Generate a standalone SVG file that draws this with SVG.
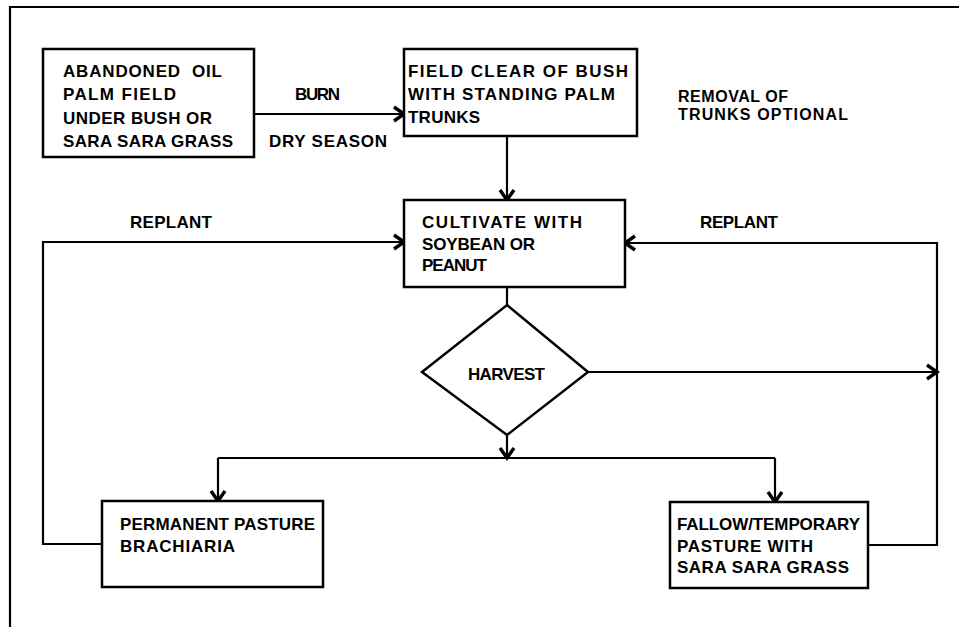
<svg xmlns="http://www.w3.org/2000/svg" width="959" height="627" viewBox="0 0 959 627">
<defs>
<style>
.box{fill:#fff;stroke:#000;stroke-width:2.5}
.ln{fill:none;stroke:#000;stroke-width:2.2}
text{font-family:"Liberation Sans",Arial,sans-serif;font-weight:bold;font-size:17px;fill:#000}
.sm{font-size:16px}
</style>
<marker id="ah" markerUnits="userSpaceOnUse" markerWidth="20" markerHeight="20" viewBox="-12 -10 14 20" refX="0" refY="0" orient="auto">
<path d="M-10,-7 L0,0 L-10,7" fill="none" stroke="#000" stroke-width="3.4" stroke-linejoin="miter"/>
</marker>
</defs>
<rect width="959" height="627" fill="#fff"/>
<path class="ln" d="M10,627 V7 H959" stroke-width="2.5"/>

<g id="connectors">
<path class="ln" d="M254,114 H404" marker-end="url(#ah)"/>
<path class="ln" d="M507,136 V200" marker-end="url(#ah)"/>
<path class="ln" d="M102,544 H43 V242 H404" marker-end="url(#ah)"/>
<path class="ln" d="M868,545 H937 V243 H625" marker-end="url(#ah)"/>
<path class="ln" d="M507,287 V305"/>
<path class="ln" d="M507,435 V458" marker-end="url(#ah)"/>
<path class="ln" d="M218,458 H775"/>
<path class="ln" d="M218,458 V501" marker-end="url(#ah)"/>
<path class="ln" d="M775,458 V502" marker-end="url(#ah)"/>
<path class="ln" d="M588,372 H937" marker-end="url(#ah)"/>
</g>

<g id="labels">
<text x="295" y="100" textLength="45" lengthAdjust="spacing">BURN</text>
<text x="269" y="147" textLength="118" lengthAdjust="spacing">DRY SEASON</text>
<text class="sm" x="678" y="102" textLength="110" lengthAdjust="spacing">REMOVAL OF</text>
<text class="sm" x="678" y="120" textLength="170" lengthAdjust="spacing">TRUNKS OPTIONAL</text>
<text x="130" y="228" textLength="82" lengthAdjust="spacing">REPLANT</text>
<text x="700" y="228" textLength="78" lengthAdjust="spacing">REPLANT</text>
</g>

<g id="abandoned">
<rect class="box" x="43" y="49" width="211" height="108"/>
<text x="63" y="77" xml:space="preserve" textLength="159" lengthAdjust="spacing">ABANDONED  OIL</text>
<text x="63" y="100" textLength="113" lengthAdjust="spacing">PALM FIELD</text>
<text x="63" y="124" textLength="149" lengthAdjust="spacing">UNDER BUSH OR</text>
<text x="63" y="147" textLength="170" lengthAdjust="spacing">SARA SARA GRASS</text>
</g>

<g id="field-clear">
<rect class="box" x="404" y="49" width="233" height="87"/>
<text x="408" y="77" textLength="220" lengthAdjust="spacing">FIELD CLEAR OF BUSH</text>
<text x="408" y="100" textLength="207" lengthAdjust="spacing">WITH STANDING PALM</text>
<text x="408" y="123" textLength="72" lengthAdjust="spacing">TRUNKS</text>
</g>

<g id="cultivate">
<rect class="box" x="404" y="200" width="221" height="87"/>
<text x="422" y="228" textLength="160" lengthAdjust="spacing">CULTIVATE WITH</text>
<text x="422" y="250" textLength="113" lengthAdjust="spacing">SOYBEAN OR</text>
<text x="422" y="271" textLength="65" lengthAdjust="spacing">PEANUT</text>
</g>

<g id="harvest">
<polygon class="box" points="507,305 588,372 507,435 422,372" stroke-width="3"/>
<text x="468" y="380" textLength="77" lengthAdjust="spacing">HARVEST</text>
</g>

<g id="permanent">
<rect class="box" x="102" y="501" width="221" height="86"/>
<text x="120" y="530" textLength="195" lengthAdjust="spacing">PERMANENT PASTURE</text>
<text x="120" y="552" textLength="115" lengthAdjust="spacing">BRACHIARIA</text>
</g>

<g id="fallow">
<rect class="box" x="670" y="502" width="198" height="86"/>
<text x="677" y="530" textLength="183" lengthAdjust="spacing">FALLOW/TEMPORARY</text>
<text x="677" y="552" textLength="136" lengthAdjust="spacing">PASTURE WITH</text>
<text x="677" y="573" textLength="172" lengthAdjust="spacing">SARA SARA GRASS</text>
</g>
</svg>
